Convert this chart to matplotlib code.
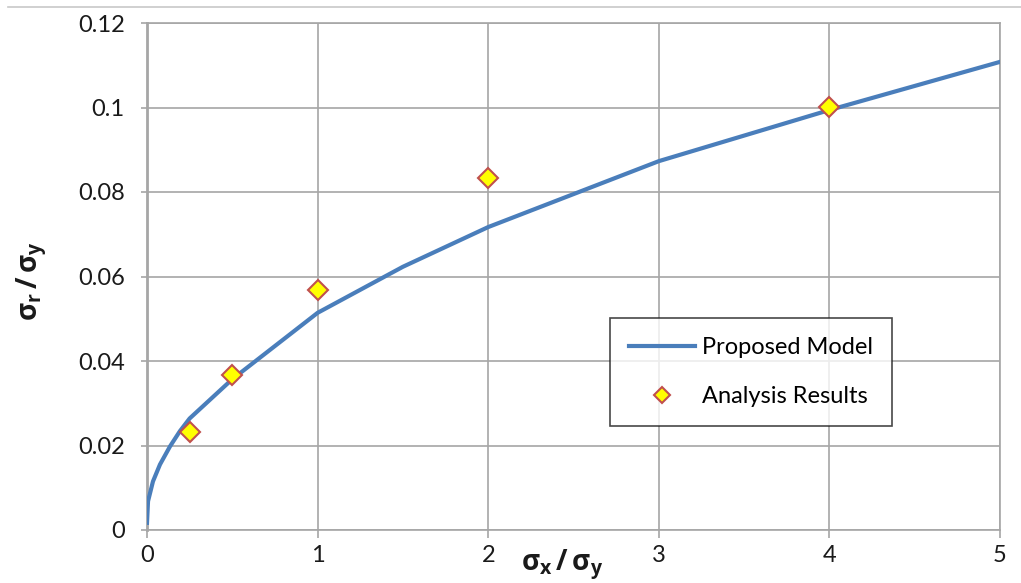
import numpy as np
import matplotlib.pyplot as plt
from matplotlib.lines import Line2D

# proposed model curve
model_x = [0, 0.006, 0.035, 0.076, 0.135, 0.193, 0.25, 0.5, 1, 1.5, 2, 3, 4, 5]
model_y = [0.0017, 0.0068, 0.0115, 0.0155, 0.0198, 0.0234, 0.0264, 0.0357, 0.0514, 0.0623, 0.0717, 0.0873, 0.0994, 0.1108]

# analysis results
res_x = [0.25, 0.5, 1, 2, 4]
res_y = [0.0233, 0.0367, 0.0567, 0.0834, 0.1001]

x_ticks = [0, 1, 2, 3, 4, 5]
y_ticks = [0, 0.02, 0.04, 0.06, 0.08, 0.1, 0.12]
y_tick_labels = ["0", "0.02", "0.04", "0.06", "0.08", "0.1", "0.12"]


def main():
    plt.rcParams["font.family"] = ["Lato", "DejaVu Sans"]
    plt.rcParams["mathtext.fontset"] = "custom"
    plt.rcParams["mathtext.rm"] = "Open Sans"
    plt.rcParams["mathtext.bf"] = "Open Sans:bold"

    fig = plt.figure(figsize=(10.21, 5.83), dpi=100)
    ax = fig.add_axes([147 / 1021, 53 / 583, 853 / 1021, 507 / 583])

    ax.plot(model_x, model_y, color="#4a7ebb", lw=3, label="Proposed Model", zorder=3)
    ax.plot(res_x, res_y, ls="none", marker="D", ms=10, mfc="#ffff00",
            mec="#c0504d", mew=1.5, label="Analysis Results", zorder=4)

    ax.set_xlim(0, 5)
    ax.set_ylim(0, 0.12)
    ax.set_xticks(x_ticks)
    ax.set_yticks(y_ticks)
    ax.set_yticklabels(y_tick_labels)
    ax.grid(True, color="#a6a6a6", lw=1.2)
    ax.set_axisbelow(True)
    for s in ax.spines.values():
        s.set_color("#a6a6a6")
        s.set_linewidth(1.2)
    ax.spines["left"].set_linewidth(2)
    ax.tick_params(axis="both", colors="#a6a6a6", labelcolor="#1a1a1a",
                   labelsize=17, length=6, width=1.2, pad=5)
    ax.tick_params(axis="y", length=4, pad=12)

    ax.text(0.487, -0.068, r"$\mathbf{σ_x\,/\,σ_y}$", transform=ax.transAxes,
            ha="center", va="center", fontsize=20, color="#1a1a1a")
    fig.text(32 / 1021, 1 - 281 / 583, r"$\mathbf{σ_r\,/\,σ_y}$", rotation=90,
             ha="center", va="center", fontsize=20, color="#1a1a1a")

    leg = ax.legend(loc="upper left", bbox_to_anchor=(610 / 1021, 1 - 318 / 583),
                    bbox_transform=fig.transFigure, fontsize=17, frameon=True,
                    fancybox=False, edgecolor="#1a1a1a", labelspacing=1.2,
                    handlelength=2.8, borderpad=0.8, borderaxespad=0,
                    handletextpad=0.3, markerscale=0.85)
    leg.get_frame().set_linewidth(1.2)

    fig.add_artist(Line2D([8 / 1021, 1], [1 - 7 / 583] * 2, color="#c8c8c8", lw=1.2))

    plt.savefig("out.png", dpi=100)
    plt.close()


if __name__ == "__main__":
    main()
